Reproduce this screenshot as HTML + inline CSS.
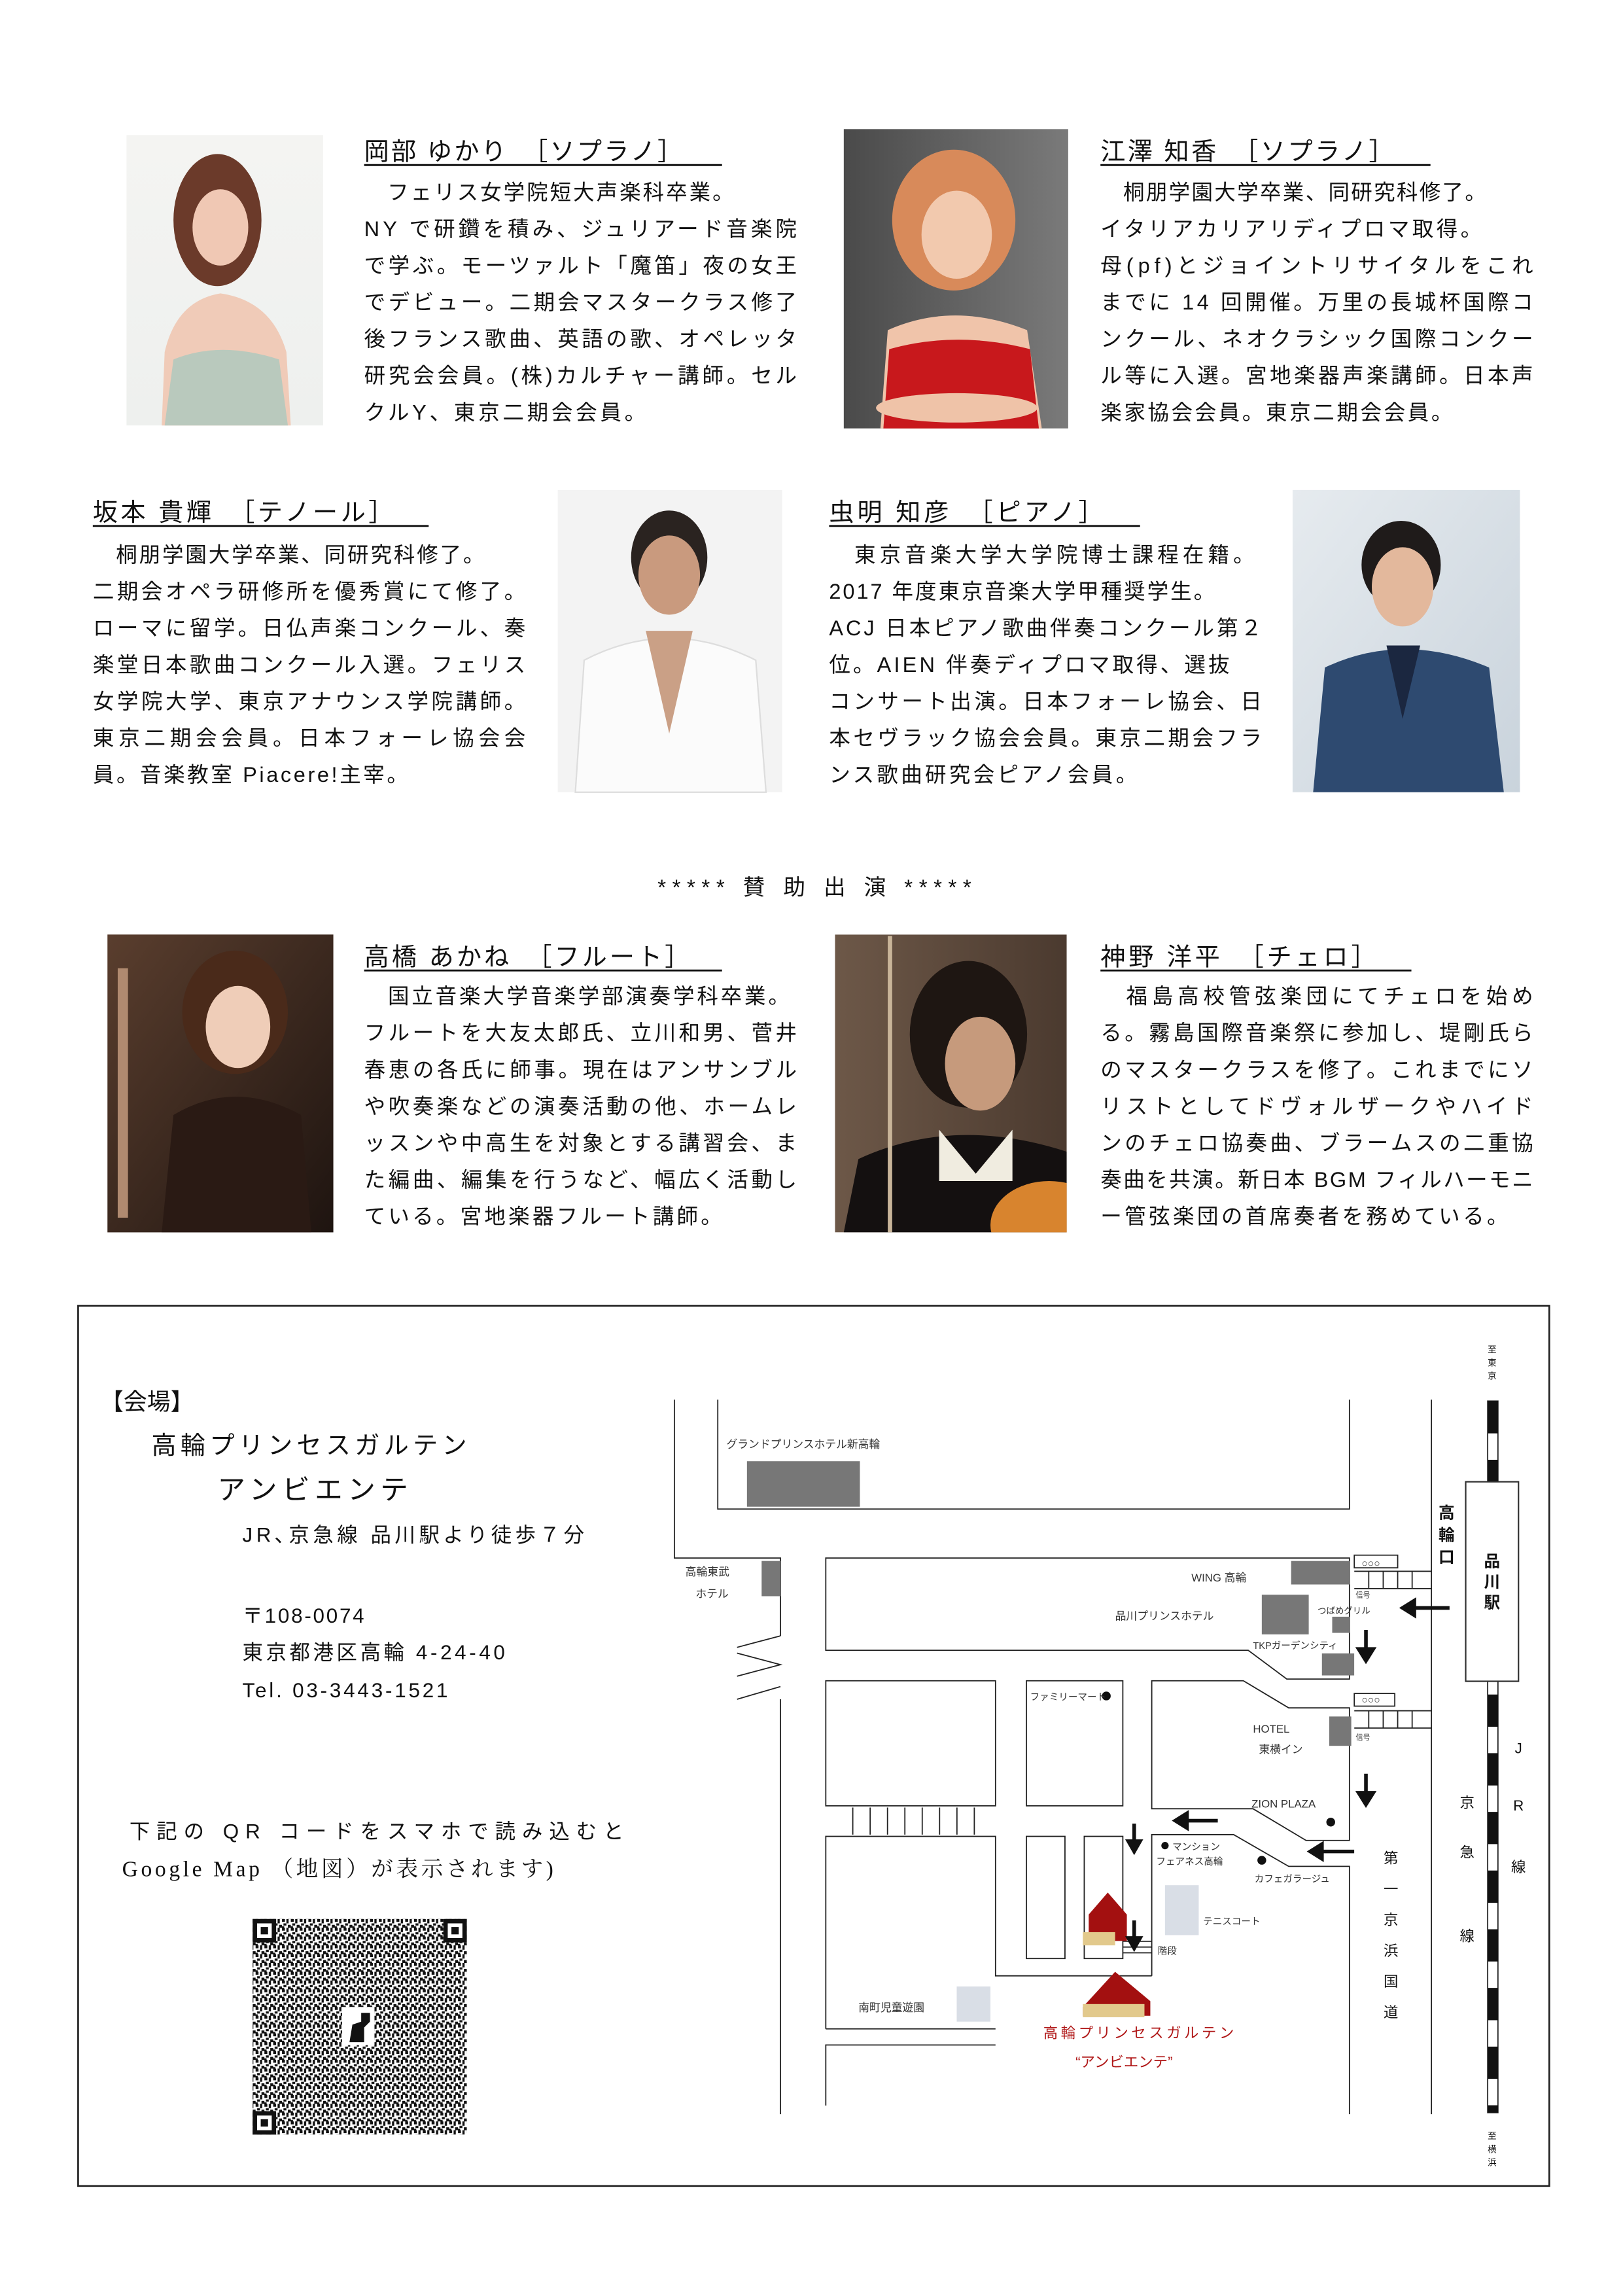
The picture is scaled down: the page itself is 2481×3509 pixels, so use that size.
<!DOCTYPE html>
<html><head><meta charset="utf-8"><style>
html,body{margin:0;padding:0;background:#fff;}
svg{display:block;}
text{font-family:"Liberation Sans","Noto Sans CJK JP",sans-serif;fill:#111;}
.b{font-size:14.5px;}
.n{font-size:17px;}
.m{font-size:7.5px;fill:#333;}
</style></head><body>
<svg width="2481" height="3509" viewBox="0 0 1106 1565" xmlns="http://www.w3.org/2000/svg">
<defs>
<linearGradient id="g1" x1="0" y1="0" x2="0" y2="1"><stop offset="0" stop-color="#f4f4f2"/><stop offset="1" stop-color="#eef0ee"/></linearGradient>
<linearGradient id="g2" x1="0" y1="0" x2="1" y2="0"><stop offset="0" stop-color="#4a4a4a"/><stop offset="1" stop-color="#7a7a7a"/></linearGradient>
<linearGradient id="g4" x1="0" y1="0" x2="1" y2="1"><stop offset="0" stop-color="#e6ebef"/><stop offset="1" stop-color="#c9d3dc"/></linearGradient>
<linearGradient id="g5" x1="0" y1="0" x2="1" y2="1"><stop offset="0" stop-color="#5a3e2e"/><stop offset="1" stop-color="#1e1410"/></linearGradient>
<linearGradient id="g6" x1="0" y1="0" x2="1" y2="0"><stop offset="0" stop-color="#6d5848"/><stop offset="1" stop-color="#4b3a2f"/></linearGradient>
<clipPath id="c6"><rect x="569" y="637" width="158" height="203"/></clipPath>
<pattern id="qr" width="6" height="6" patternUnits="userSpaceOnUse">
<rect width="6" height="6" fill="#fff"/>
<rect x="0" y="0" width="2" height="2" fill="#111"/><rect x="3" y="0" width="1.5" height="3" fill="#111"/>
<rect x="1" y="3" width="2" height="1.5" fill="#111"/><rect x="4" y="4" width="2" height="2" fill="#111"/>
<rect x="0" y="5" width="1.5" height="1" fill="#111"/>
</pattern>
</defs>

<!-- Photo 1 Okabe -->
<rect x="86" y="92" width="134" height="198" fill="url(#g1)"/>
<ellipse cx="148" cy="150" rx="30" ry="45" fill="#6b3a2a"/>
<ellipse cx="150" cy="155" rx="19" ry="26" fill="#f0c8b4"/>
<path d="M110 290 L112 240 Q120 205 150 200 Q185 205 195 240 L198 290 Z" fill="#f0cbb8"/>
<path d="M112 290 L118 245 Q150 232 190 245 L196 290 Z" fill="#b9c9bd"/>

<!-- Photo 2 Ezawa -->
<rect x="575" y="88" width="153" height="204" fill="url(#g2)"/>
<ellipse cx="650" cy="150" rx="42" ry="48" fill="#d88a5a"/>
<ellipse cx="652" cy="160" rx="24" ry="30" fill="#f2c9ae"/>
<path d="M600 292 L605 225 Q650 205 700 225 L710 292 Z" fill="#f0c4aa"/>
<path d="M602 292 L606 238 Q652 225 702 238 L708 292 Z" fill="#c8181c"/>
<ellipse cx="652" cy="278" rx="55" ry="10" fill="#efc3a8"/>

<!-- Photo 3 Sakamoto -->
<rect x="380" y="334" width="153" height="206" fill="#f3f3f3"/>
<ellipse cx="456" cy="380" rx="26" ry="32" fill="#2a2320"/>
<ellipse cx="456" cy="392" rx="21" ry="27" fill="#c99a7e"/>
<path d="M392 540 L398 450 Q456 420 515 450 L522 540 Z" fill="#fbfbfb" stroke="#ddd"/>
<path d="M440 430 L456 500 L472 430 Z" fill="#caa086"/>

<!-- Photo 4 Mushiake -->
<rect x="881" y="334" width="155" height="206" fill="url(#g4)"/>
<ellipse cx="955" cy="385" rx="27" ry="30" fill="#1f1b1a"/>
<ellipse cx="956" cy="400" rx="21" ry="27" fill="#e3b89c"/>
<path d="M895 540 L903 455 Q956 430 1015 455 L1025 540 Z" fill="#2e4a70"/>
<path d="M945 440 L956 490 L968 440 Z" fill="#1b2740"/>

<!-- Photo 5 Takahashi -->
<rect x="73" y="637" width="154" height="203" fill="url(#g5)"/>
<ellipse cx="160" cy="690" rx="36" ry="42" fill="#4a2a1a"/>
<ellipse cx="162" cy="700" rx="22" ry="28" fill="#efcdb8"/>
<path d="M110 840 L118 760 Q160 735 205 760 L212 840 Z" fill="#2a1a14"/>
<rect x="80" y="660" width="7" height="170" fill="#b08a70"/>

<!-- Photo 6 Kamino -->
<g clip-path="url(#c6)">
<rect x="569" y="637" width="158" height="203" fill="url(#g6)"/>
<ellipse cx="660" cy="705" rx="40" ry="50" fill="#1e1612"/>
<ellipse cx="668" cy="725" rx="24" ry="32" fill="#c69a7c"/>
<path d="M575 840 L585 790 Q650 760 727 785 L727 840 Z" fill="#141010"/>
<path d="M640 770 L665 800 L690 770 L690 805 L640 805 Z" fill="#f0ece0"/>
<ellipse cx="715" cy="835" rx="40" ry="30" fill="#d8842e"/>
<rect x="605" y="638" width="3" height="202" fill="#c9b59a"/>
</g>

<!-- Names -->
<text class="n" x="248" y="109" textLength="217" lengthAdjust="spacing">岡部 ゆかり　［ソプラノ］</text>
<line x1="248" y1="112.5" x2="492" y2="112.5" stroke="#111" stroke-width="1.3"/>
<text class="n" x="750" y="109" textLength="200" lengthAdjust="spacing">江澤 知香　［ソプラノ］</text>
<line x1="750" y1="112.5" x2="975" y2="112.5" stroke="#111" stroke-width="1.3"/>
<text class="n" x="63" y="355" textLength="205" lengthAdjust="spacing">坂本 貴輝　［テノール］</text>
<line x1="63" y1="358.5" x2="292" y2="358.5" stroke="#111" stroke-width="1.3"/>
<text class="n" x="565" y="355" textLength="187" lengthAdjust="spacing">虫明 知彦　［ピアノ］</text>
<line x1="565" y1="358.5" x2="777" y2="358.5" stroke="#111" stroke-width="1.3"/>
<text class="n" x="248" y="658" textLength="222" lengthAdjust="spacing">高橋 あかね　［フルート］</text>
<line x1="248" y1="661.5" x2="492" y2="661.5" stroke="#111" stroke-width="1.3"/>
<text class="n" x="750" y="658" textLength="188" lengthAdjust="spacing">神野 洋平　［チェロ］</text>
<line x1="750" y1="661.5" x2="962" y2="661.5" stroke="#111" stroke-width="1.3"/>

<!-- Okabe body -->
<g class="b">
<text x="248" y="136" textLength="252">　フェリス女学院短大声楽科卒業。</text>
<text x="248" y="161" textLength="295">NY で研鑽を積み、ジュリアード音楽院</text>
<text x="248" y="186" textLength="295">で学ぶ。モーツァルト「魔笛」夜の女王</text>
<text x="248" y="211" textLength="295">でデビュー。二期会マスタークラス修了</text>
<text x="248" y="236" textLength="295">後フランス歌曲、英語の歌、オペレッタ</text>
<text x="248" y="261" textLength="295">研究会会員。(株)カルチャー講師。セル</text>
<text x="248" y="286" textLength="192">クルY、東京二期会会員。</text>
</g>
<!-- Ezawa body -->
<g class="b">
<text x="750" y="136" textLength="263">　桐朋学園大学卒業、同研究科修了。</text>
<text x="750" y="161" textLength="260">イタリアカリアリディプロマ取得。</text>
<text x="750" y="186" textLength="295">母(pf)とジョイントリサイタルをこれ</text>
<text x="750" y="211" textLength="295">までに 14 回開催。万里の長城杯国際コ</text>
<text x="750" y="236" textLength="295">ンクール、ネオクラシック国際コンクー</text>
<text x="750" y="261" textLength="295">ル等に入選。宮地楽器声楽講師。日本声</text>
<text x="750" y="286" textLength="240">楽家協会会員。東京二期会会員。</text>
</g>
<!-- Sakamoto body -->
<g class="b">
<text x="63" y="383" textLength="267">　桐朋学園大学卒業、同研究科修了。</text>
<text x="63" y="408" textLength="295">二期会オペラ研修所を優秀賞にて修了。</text>
<text x="63" y="433" textLength="295">ローマに留学。日仏声楽コンクール、奏</text>
<text x="63" y="458" textLength="295">楽堂日本歌曲コンクール入選。フェリス</text>
<text x="63" y="483" textLength="295">女学院大学、東京アナウンス学院講師。</text>
<text x="63" y="508" textLength="295">東京二期会会員。日本フォーレ協会会</text>
<text x="63" y="533" textLength="215">員。音楽教室 Piacere!主宰。</text>
</g>
<!-- Mushiake body -->
<g class="b">
<text x="565" y="383" textLength="290">　東京音楽大学大学院博士課程在籍。</text>
<text x="565" y="408" textLength="263">2017 年度東京音楽大学甲種奨学生。</text>
<text x="565" y="433" textLength="295">ACJ 日本ピアノ歌曲伴奏コンクール第２</text>
<text x="565" y="458" textLength="273">位。AIEN 伴奏ディプロマ取得、選抜</text>
<text x="565" y="483" textLength="295">コンサート出演。日本フォーレ協会、日</text>
<text x="565" y="508" textLength="295">本セヴラック協会会員。東京二期会フラ</text>
<text x="565" y="533" textLength="210">ンス歌曲研究会ピアノ会員。</text>
</g>

<text x="448" y="610" style="font-size:15px" textLength="214" lengthAdjust="spacing">***** 賛 助 出 演 *****</text>

<!-- Takahashi body -->
<g class="b">
<text x="248" y="684" textLength="290">　国立音楽大学音楽学部演奏学科卒業。</text>
<text x="248" y="709" textLength="295">フルートを大友太郎氏、立川和男、菅井</text>
<text x="248" y="734" textLength="295">春恵の各氏に師事。現在はアンサンブル</text>
<text x="248" y="759" textLength="295">や吹奏楽などの演奏活動の他、ホームレ</text>
<text x="248" y="784" textLength="295">ッスンや中高生を対象とする講習会、ま</text>
<text x="248" y="809" textLength="295">た編曲、編集を行うなど、幅広く活動し</text>
<text x="248" y="834" textLength="244">ている。宮地楽器フルート講師。</text>
</g>
<!-- Kamino body -->
<g class="b">
<text x="750" y="684" textLength="295">　福島高校管弦楽団にてチェロを始め</text>
<text x="750" y="709" textLength="295">る。霧島国際音楽祭に参加し、堤剛氏ら</text>
<text x="750" y="734" textLength="295">のマスタークラスを修了。これまでにソ</text>
<text x="750" y="759" textLength="295">リストとしてドヴォルザークやハイド</text>
<text x="750" y="784" textLength="295">ンのチェロ協奏曲、ブラームスの二重協</text>
<text x="750" y="809" textLength="295">奏曲を共演。新日本 BGM フィルハーモニ</text>
<text x="750" y="834" textLength="278">ー管弦楽団の首席奏者を務めている。</text>
</g>

<!-- Venue box -->
<rect x="53" y="890" width="1003" height="600" fill="none" stroke="#222" stroke-width="1.2"/>
<text x="68" y="961" style="font-size:16px">【会場】</text>
<text x="103" y="991" style="font-size:17px" textLength="215">高輪プリンセスガルテン</text>
<text x="148" y="1022" style="font-size:19px" textLength="130">アンビエンテ</text>
<text x="165" y="1051" style="font-size:14px" textLength="233">JR､京急線 品川駅より徒歩７分</text>
<text x="165" y="1106" style="font-size:14px" textLength="83">〒108-0074</text>
<text x="165" y="1131" style="font-size:14px" textLength="179">東京都港区高輪 4-24-40</text>
<text x="165" y="1157" style="font-size:14px" textLength="140">Tel. 03-3443-1521</text>
<text x="88" y="1253" style="font-size:14px" textLength="337">下記の QR コードをスマホで読み込むと</text>
<text x="83" y="1279" style="font-size:15px;font-family:'Liberation Serif','Noto Serif CJK SC',serif" textLength="294">Google Map （地図）が表示されます)</text>

<!-- QR -->
<rect x="172" y="1308" width="146" height="147" fill="url(#qr)"/>
<g fill="#111">
<rect x="172" y="1308" width="16" height="16"/><rect x="302" y="1308" width="16" height="16"/><rect x="172" y="1439" width="16" height="16"/>
</g>
<g fill="#fff"><rect x="175" y="1311" width="10" height="10"/><rect x="305" y="1311" width="10" height="10"/><rect x="175" y="1442" width="10" height="10"/></g>
<g fill="#111"><rect x="177.5" y="1313.5" width="5" height="5"/><rect x="307.5" y="1313.5" width="5" height="5"/><rect x="177.5" y="1444.5" width="5" height="5"/></g>
<rect x="233" y="1368" width="22" height="26" fill="#fff"/>
<path d="M238 1392 L240 1380 L246 1378 L246 1372 L252 1372 L252 1378 L248 1382 L248 1392 Z" fill="#111"/>

<!-- Map lines (zoom coords) -->
<g transform="translate(42,887.2) scale(0.6575,0.3928)" fill="none" stroke="#222" stroke-width="1.8">
<polyline vector-effect="non-scaling-stroke" points="635,170 635,445 745,445 745,580"/>
<polyline vector-effect="non-scaling-stroke" points="745,690 745,1410"/>
<polyline vector-effect="non-scaling-stroke" points="700,600 745,580"/>
<polyline vector-effect="non-scaling-stroke" points="700,650 745,630 700,610"/>
<polyline vector-effect="non-scaling-stroke" points="700,690 745,668"/>
<polyline vector-effect="non-scaling-stroke" points="680,170 680,360 1335,360 1335,170"/>
<polyline vector-effect="non-scaling-stroke" points="1420,170 1420,1410"/>
<polygon vector-effect="non-scaling-stroke" points="792,445 1335,445 1335,655 1270,655 1230,605 792,605"/>
<rect vector-effect="non-scaling-stroke" x="792" y="658" width="176" height="217"/>
<rect vector-effect="non-scaling-stroke" x="1000" y="658" width="100" height="217"/>
<polygon vector-effect="non-scaling-stroke" points="1130,658 1225,658 1272,705 1335,705 1335,935 1290,935 1235,880 1130,880"/>
<polyline vector-effect="non-scaling-stroke" points="1130,1170 1130,925 1215,925 1272,980 1335,980 1335,1410"/>
<polyline vector-effect="non-scaling-stroke" points="792,1262 792,928 968,928 968,1170 1130,1170"/>
<polyline vector-effect="non-scaling-stroke" points="792,1262 968,1262"/>
<polyline vector-effect="non-scaling-stroke" points="968,1290 792,1290 792,1395"/>
<rect vector-effect="non-scaling-stroke" x="1000" y="928" width="40" height="212"/>
<rect vector-effect="non-scaling-stroke" x="1060" y="928" width="40" height="212"/>
<path vector-effect="non-scaling-stroke" d="M820 878V925M838 878V925M856 878V925M874 878V925M892 878V925M910 878V925M928 878V925M946 878V925"/>
<path vector-effect="non-scaling-stroke" d="M1340 468H1420M1340 498H1420M1355 468V498M1370 468V498M1385 468V498M1400 468V498"/>
<path vector-effect="non-scaling-stroke" d="M1340 710H1420M1340 740H1420M1355 710V740M1370 710V740M1385 710V740M1400 710V740"/>
<rect vector-effect="non-scaling-stroke" x="1340" y="440" width="45" height="22"/>
<rect vector-effect="non-scaling-stroke" x="1340" y="680" width="42" height="22"/>
<path vector-effect="non-scaling-stroke" d="M1100 1110H1130M1100 1120H1130M1100 1130H1130"/>
</g>
<!-- gray buildings -->
<g fill="#777">
<rect x="509" y="996" width="77" height="31"/>
<rect x="519" y="1064" width="13" height="24"/>
<rect x="880" y="1064" width="40" height="16"/>
<rect x="860" y="1087" width="32" height="27"/>
<rect x="908" y="1102" width="12" height="11"/>
<rect x="901" y="1127" width="22" height="15"/>
<rect x="906" y="1170" width="15" height="20"/>
</g>
<g fill="#d9dee6"><rect x="794" y="1285" width="23" height="34"/><rect x="652" y="1354" width="23" height="24"/></g>
<!-- red buildings -->
<path d="M742 1323 L742 1305 L755 1290 L768 1305 L768 1323 Z" fill="#a31010"/>
<rect x="738" y="1317" width="22" height="9" fill="#e2c98c"/>
<path d="M738 1368 L760 1344 L784 1364 L784 1374 L738 1374 Z" fill="#a31010"/>
<rect x="738" y="1366" width="42" height="9" fill="#e2c98c"/>
<!-- arrows -->
<g stroke="#111" stroke-width="2.5" fill="#111">
<line x1="988" y1="1096" x2="962" y2="1096"/><path d="M956 1096 L964 1091 L964 1101 Z"/>
<line x1="830" y1="1241" x2="808" y2="1241"/><path d="M801 1241 L809 1236 L809 1246 Z"/>
<line x1="923" y1="1262" x2="900" y2="1262"/><path d="M893 1262 L901 1257 L901 1267 Z"/>
<line x1="931" y1="1111" x2="931" y2="1126"/><path d="M931 1132 L926 1124 L936 1124 Z"/>
<line x1="931" y1="1209" x2="931" y2="1224"/><path d="M931 1230 L926 1222 L936 1222 Z"/>
<line x1="773" y1="1243" x2="773" y2="1256"/><path d="M773 1262 L769 1255 L777 1255 Z"/>
<line x1="773" y1="1309" x2="773" y2="1322"/><path d="M773 1328 L769 1321 L777 1321 Z"/>
</g>
<!-- dots -->
<g fill="#111"><circle cx="754" cy="1156" r="3"/><circle cx="907" cy="1242" r="3"/><circle cx="794" cy="1258" r="2.5"/><circle cx="860" cy="1268" r="3"/></g>
<!-- rail -->
<rect x="1014" y="955" width="7" height="485" fill="#fff" stroke="#222" stroke-width="0.8"/>
<line x1="1017.5" y1="955" x2="1017.5" y2="1440" stroke="#111" stroke-width="7" stroke-dasharray="22,18"/>
<rect x="999" y="1010" width="36" height="136" fill="#fff" stroke="#333" stroke-width="1"/>
<!-- map labels -->
<text class="m" x="495" y="987">グランドプリンスホテル新高輪</text>
<text class="m" x="467" y="1074">高輪東武</text><text class="m" x="474" y="1089">ホテル</text>
<text class="m" x="812" y="1078">WING 高輪</text>
<text class="m" x="760" y="1104">品川プリンスホテル</text>
<text class="m" x="898" y="1100" style="font-size:6px">つばめグリル</text>
<text class="m" x="924" y="1089" style="font-size:5px">信号</text>
<text class="m" x="854" y="1124" style="font-size:6.5px">TKPガーデンシティ</text>
<text class="m" x="928" y="1068" style="font-size:7px">○○○</text>
<text class="m" x="928" y="1161" style="font-size:7px">○○○</text>
<text class="m" x="924" y="1186" style="font-size:5px">信号</text>
<text class="m" x="702" y="1159" style="font-size:6.5px">ファミリーマート</text>
<text class="m" x="854" y="1181">HOTEL</text><text class="m" x="858" y="1195">東横イン</text>
<text class="m" x="853" y="1232">ZION PLAZA</text>
<text class="m" x="799" y="1261" style="font-size:6.5px">マンション</text>
<text class="m" x="788" y="1271" style="font-size:6.5px">フェアネス高輪</text>
<text class="m" x="855" y="1283" style="font-size:6.5px">カフェガラージュ</text>
<text class="m" x="820" y="1312" style="font-size:6.5px">テニスコート</text>
<text class="m" x="789" y="1332" style="font-size:6.5px">階段</text>
<text class="m" x="585" y="1371">南町児童遊園</text>
<text x="711" y="1389" style="font-size:10px;fill:#b01818" textLength="130">高輪プリンセスガルテン</text>
<text x="733" y="1409" style="font-size:10px;fill:#b01818">“アンビエンテ”</text>
<g style="font-size:11px;font-weight:bold" text-anchor="middle">
<text x="1017" y="1068">品</text><text x="1017" y="1082">川</text><text x="1017" y="1096">駅</text>
<text x="986" y="1035">高</text><text x="986" y="1050">輪</text><text x="986" y="1065">口</text>
</g>
<g style="font-size:6px" text-anchor="middle"><text x="1017" y="922">至</text><text x="1017" y="931">東</text><text x="1017" y="940">京</text>
<text x="1017" y="1458">至</text><text x="1017" y="1467">横</text><text x="1017" y="1476">浜</text></g>
<g style="font-size:10px" text-anchor="middle">
<text x="948" y="1270">第</text><text x="948" y="1291">一</text><text x="948" y="1312">京</text><text x="948" y="1333">浜</text><text x="948" y="1354">国</text><text x="948" y="1375">道</text>
<text x="1000" y="1232">京</text><text x="1000" y="1266">急</text><text x="1000" y="1323">線</text>
<text x="1035" y="1195">J</text><text x="1035" y="1234">R</text><text x="1035" y="1276">線</text>
</g>
</svg>
</body></html>
